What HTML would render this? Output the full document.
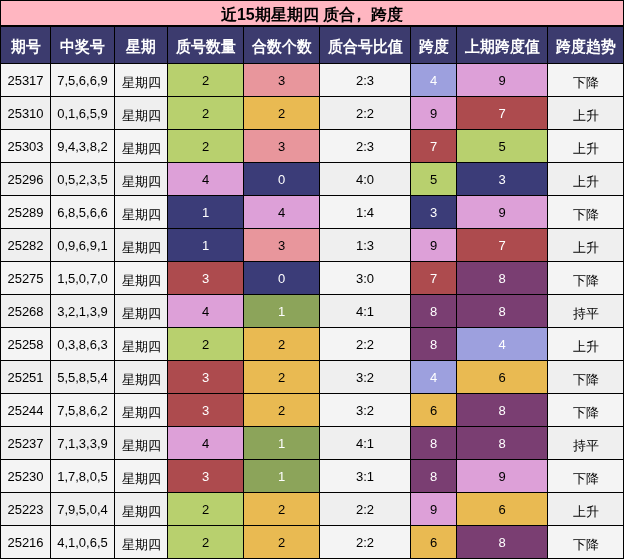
<!DOCTYPE html>
<html><head><meta charset="utf-8"><style>
html,body{margin:0;padding:0;background:#fff;}
body{width:624px;height:559px;overflow:hidden;position:relative;-webkit-font-smoothing:antialiased;font-family:"Liberation Sans",sans-serif;}
.title{will-change:transform;position:absolute;left:0;top:0;width:622px;height:24px;border:1px solid #000;background:#ffb6c1;font-weight:bold;font-size:16px;line-height:28px;height:24px;overflow:hidden;text-align:center;color:#000;}
table{position:absolute;left:0;top:26px;will-change:transform;border-collapse:collapse;table-layout:fixed;}
td,th{border:1px solid #000;padding:0;text-align:center;font-size:13px;color:#000;background:#f4f4f4;overflow:hidden;white-space:nowrap;}
th{background:#3c3b6e;color:#fff;font-size:15px;font-weight:bold;height:36px;}
td{height:32px;}
tr:nth-child(odd) td{background:#efefef;}
.z{position:relative;top:3px;}
th span{display:inline-block;position:relative;top:2px;transform:scaleY(1.08);}
</style></head><body>
<div class="title">近15期星期四 质合<span style="position:relative;left:-4px">，</span>跨度</div>
<table>
<colgroup><col style="width:50px"><col style="width:64px"><col style="width:53px"><col style="width:76px"><col style="width:76px"><col style="width:91px"><col style="width:46px"><col style="width:91px"><col style="width:76px"></colgroup>
<tr><th><span>期号</span></th><th><span>中奖号</span></th><th><span>星期</span></th><th><span>质号数量</span></th><th><span>合数个数</span></th><th><span>质合号比值</span></th><th><span>跨度</span></th><th><span>上期跨度值</span></th><th><span>跨度趋势</span></th></tr>
<tr><td>25317</td><td>7,5,6,6,9</td><td><span class=z>星期四</span></td><td style="background:#b8d06e;color:#000">2</td><td style="background:#e8969c;color:#000">3</td><td>2:3</td><td style="background:#9da0de;color:#fff">4</td><td style="background:#dda0d8;color:#000">9</td><td><span class=z>下降</span></td></tr>
<tr><td>25310</td><td>0,1,6,5,9</td><td><span class=z>星期四</span></td><td style="background:#b8d06e;color:#000">2</td><td style="background:#e9ba52;color:#000">2</td><td>2:2</td><td style="background:#dda0d8;color:#000">9</td><td style="background:#ad4b4e;color:#fff">7</td><td><span class=z>上升</span></td></tr>
<tr><td>25303</td><td>9,4,3,8,2</td><td><span class=z>星期四</span></td><td style="background:#b8d06e;color:#000">2</td><td style="background:#e8969c;color:#000">3</td><td>2:3</td><td style="background:#ad4b4e;color:#fff">7</td><td style="background:#b8d06e;color:#000">5</td><td><span class=z>上升</span></td></tr>
<tr><td>25296</td><td>0,5,2,3,5</td><td><span class=z>星期四</span></td><td style="background:#dda0d8;color:#000">4</td><td style="background:#3b3c78;color:#fff">0</td><td>4:0</td><td style="background:#b8d06e;color:#000">5</td><td style="background:#3b3c78;color:#fff">3</td><td><span class=z>上升</span></td></tr>
<tr><td>25289</td><td>6,8,5,6,6</td><td><span class=z>星期四</span></td><td style="background:#3b3c78;color:#fff">1</td><td style="background:#dda0d8;color:#000">4</td><td>1:4</td><td style="background:#3b3c78;color:#fff">3</td><td style="background:#dda0d8;color:#000">9</td><td><span class=z>下降</span></td></tr>
<tr><td>25282</td><td>0,9,6,9,1</td><td><span class=z>星期四</span></td><td style="background:#3b3c78;color:#fff">1</td><td style="background:#e8969c;color:#000">3</td><td>1:3</td><td style="background:#dda0d8;color:#000">9</td><td style="background:#ad4b4e;color:#fff">7</td><td><span class=z>上升</span></td></tr>
<tr><td>25275</td><td>1,5,0,7,0</td><td><span class=z>星期四</span></td><td style="background:#ad4b4e;color:#fff">3</td><td style="background:#3b3c78;color:#fff">0</td><td>3:0</td><td style="background:#ad4b4e;color:#fff">7</td><td style="background:#7a3e72;color:#fff">8</td><td><span class=z>下降</span></td></tr>
<tr><td>25268</td><td>3,2,1,3,9</td><td><span class=z>星期四</span></td><td style="background:#dda0d8;color:#000">4</td><td style="background:#8ca45a;color:#fff">1</td><td>4:1</td><td style="background:#7a3e72;color:#fff">8</td><td style="background:#7a3e72;color:#fff">8</td><td><span class=z>持平</span></td></tr>
<tr><td>25258</td><td>0,3,8,6,3</td><td><span class=z>星期四</span></td><td style="background:#b8d06e;color:#000">2</td><td style="background:#e9ba52;color:#000">2</td><td>2:2</td><td style="background:#7a3e72;color:#fff">8</td><td style="background:#9da0de;color:#fff">4</td><td><span class=z>上升</span></td></tr>
<tr><td>25251</td><td>5,5,8,5,4</td><td><span class=z>星期四</span></td><td style="background:#ad4b4e;color:#fff">3</td><td style="background:#e9ba52;color:#000">2</td><td>3:2</td><td style="background:#9da0de;color:#fff">4</td><td style="background:#e9ba52;color:#000">6</td><td><span class=z>下降</span></td></tr>
<tr><td>25244</td><td>7,5,8,6,2</td><td><span class=z>星期四</span></td><td style="background:#ad4b4e;color:#fff">3</td><td style="background:#e9ba52;color:#000">2</td><td>3:2</td><td style="background:#e9ba52;color:#000">6</td><td style="background:#7a3e72;color:#fff">8</td><td><span class=z>下降</span></td></tr>
<tr><td>25237</td><td>7,1,3,3,9</td><td><span class=z>星期四</span></td><td style="background:#dda0d8;color:#000">4</td><td style="background:#8ca45a;color:#fff">1</td><td>4:1</td><td style="background:#7a3e72;color:#fff">8</td><td style="background:#7a3e72;color:#fff">8</td><td><span class=z>持平</span></td></tr>
<tr><td>25230</td><td>1,7,8,0,5</td><td><span class=z>星期四</span></td><td style="background:#ad4b4e;color:#fff">3</td><td style="background:#8ca45a;color:#fff">1</td><td>3:1</td><td style="background:#7a3e72;color:#fff">8</td><td style="background:#dda0d8;color:#000">9</td><td><span class=z>下降</span></td></tr>
<tr><td>25223</td><td>7,9,5,0,4</td><td><span class=z>星期四</span></td><td style="background:#b8d06e;color:#000">2</td><td style="background:#e9ba52;color:#000">2</td><td>2:2</td><td style="background:#dda0d8;color:#000">9</td><td style="background:#e9ba52;color:#000">6</td><td><span class=z>上升</span></td></tr>
<tr><td>25216</td><td>4,1,0,6,5</td><td><span class=z>星期四</span></td><td style="background:#b8d06e;color:#000">2</td><td style="background:#e9ba52;color:#000">2</td><td>2:2</td><td style="background:#e9ba52;color:#000">6</td><td style="background:#7a3e72;color:#fff">8</td><td><span class=z>下降</span></td></tr>
</table>
</body></html>
